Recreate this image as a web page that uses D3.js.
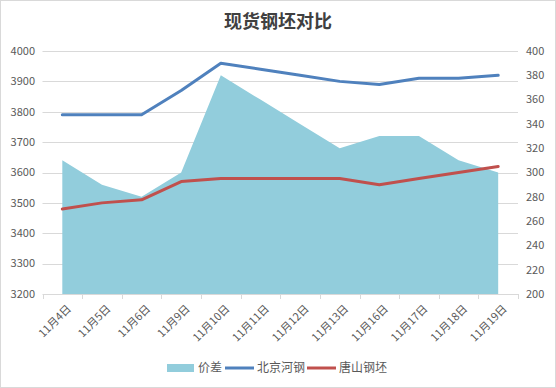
<!DOCTYPE html>
<html>
<head>
<meta charset="utf-8">
<script src="https://cdn.jsdelivr.net/npm/d3@7"></script>
<style>
  body{margin:0;background:#fff;}
  svg{font-family:"Noto Sans CJK SC","Liberation Sans",sans-serif;}
</style>
</head>
<body>
<div id="chart"></div>
<script>
var dates = ["11月4日","11月5日","11月6日","11月9日","11月10日","11月11日","11月12日","11月13日","11月16日","11月17日","11月18日","11月19日"];
var beijing = [3790,3790,3790,3870,3960,3940,3920,3900,3890,3910,3910,3920];
var tangshan = [3480,3500,3510,3570,3580,3580,3580,3580,3560,3580,3600,3620];
var spread = [310,290,280,300,380,360,340,320,330,330,310,300];
var leftTicks = [3200,3300,3400,3500,3600,3700,3800,3900,4000];
var rightTicks = [200,220,240,260,280,300,320,340,360,380,400];

var W = 556, H = 388;
var svg = d3.select("#chart").append("svg").attr("width",W).attr("height",H);

svg.append("rect").attr("x",0.5).attr("y",0.5).attr("width",W-1).attr("height",H-1)
   .attr("fill","#fff").attr("stroke","#d9d9d9");

svg.append("text").attr("x",W/2).attr("y",28).attr("text-anchor","middle")
   .attr("font-size",18).attr("font-weight","bold").attr("fill","#404040")
   .text("现货钢坯对比");

var plotL = 42.5, plotR = 518, plotT = 51, plotB = 294;
var x = d3.scalePoint().domain(dates).range([plotL, plotR]).padding(0.5);
var y = d3.scaleLinear().domain([3200,4000]).range([plotB, plotT]);
var y2 = d3.scaleLinear().domain([200,400]).range([plotB, plotT]);

// gridlines
svg.append("g").selectAll("line").data(leftTicks.slice(1)).enter().append("line")
   .attr("x1",plotL).attr("x2",plotR)
   .attr("y1",function(d){return Math.round(y(d))+0.5;})
   .attr("y2",function(d){return Math.round(y(d))+0.5;})
   .attr("stroke","#d9d9d9");

// area
var area = d3.area().x(function(d,i){return x(dates[i]);}).y0(plotB).y1(function(d){return y2(d);});
svg.append("path").datum(spread).attr("d",area).attr("fill","#92cddc");

// x axis
var xa = svg.append("g");
xa.append("line").attr("x1",plotL).attr("x2",plotR).attr("y1",plotB+0.5).attr("y2",plotB+0.5).attr("stroke","#d9d9d9");
var step = x.step();
var bounds = d3.range(dates.length+1).map(function(i){return plotL + i*step;});
xa.selectAll(".tk").data(bounds).enter().append("line").attr("class","tk")
  .attr("x1",function(d){return Math.round(d)+0.5;}).attr("x2",function(d){return Math.round(d)+0.5;})
  .attr("y1",plotB).attr("y2",plotB+5).attr("stroke","#d9d9d9");
xa.selectAll(".lbl").data(dates).enter().append("text").attr("class","lbl")
  .attr("transform",function(d){return "translate("+(x(d)+4)+","+(plotB+10)+") rotate(-45)";})
  .attr("text-anchor","end").attr("dy","0.7em").attr("font-size",11).attr("fill","#595959")
  .text(function(d){return d;});

// y axes labels
svg.append("g").selectAll("text").data(leftTicks).enter().append("text")
   .attr("x",35).attr("y",function(d){return y(d);}).attr("dy","0.35em")
   .attr("text-anchor","end").attr("font-size",11).attr("fill","#595959")
   .text(function(d){return d;});
svg.append("g").selectAll("text").data(rightTicks).enter().append("text")
   .attr("x",526).attr("y",function(d){return y2(d);}).attr("dy","0.35em")
   .attr("text-anchor","start").attr("font-size",11).attr("fill","#595959")
   .text(function(d){return d;});

// lines
var line = d3.line().x(function(d,i){return x(dates[i]);}).y(function(d){return y(d);});
svg.append("path").datum(beijing).attr("d",line).attr("fill","none")
   .attr("stroke","#4f81bd").attr("stroke-width",3).attr("stroke-linejoin","round").attr("stroke-linecap","round");
svg.append("path").datum(tangshan).attr("d",line).attr("fill","none")
   .attr("stroke","#c0504d").attr("stroke-width",3).attr("stroke-linejoin","round").attr("stroke-linecap","round");

// legend
var lg = svg.append("g").attr("font-size",12).attr("fill","#595959");
lg.append("rect").attr("x",167).attr("y",364).attr("width",27).attr("height",8).attr("fill","#92cddc");
lg.append("text").attr("x",198).attr("y",368).attr("dy","0.35em").text("价差");
lg.append("line").attr("x1",225).attr("x2",254).attr("y1",368).attr("y2",368).attr("stroke","#4f81bd").attr("stroke-width",3);
lg.append("text").attr("x",257).attr("y",368).attr("dy","0.35em").text("北京河钢");
lg.append("line").attr("x1",307).attr("x2",336).attr("y1",368).attr("y2",368).attr("stroke","#c0504d").attr("stroke-width",3);
lg.append("text").attr("x",339).attr("y",368).attr("dy","0.35em").text("唐山钢坯");
</script>
</body>
</html>
